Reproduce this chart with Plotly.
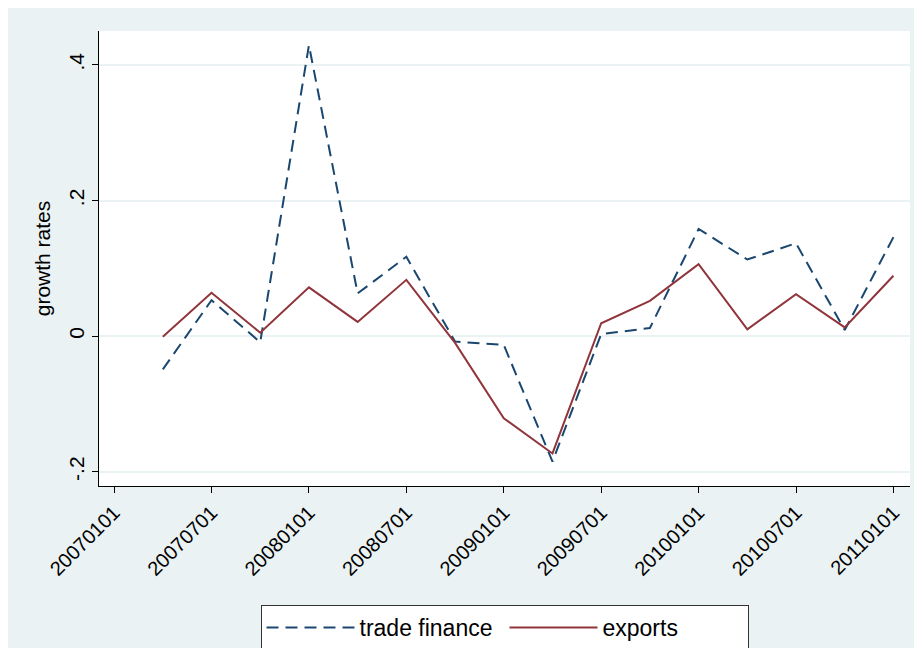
import plotly.graph_objects as go

# quarterly observations (yyyymmdd)
quarters = ["20070401", "20070701", "20071001", "20080101", "20080401", "20080701",
            "20081001", "20090101", "20090401", "20090701", "20091001", "20100101",
            "20100401", "20100701", "20101001", "20110101"]

trade_finance = [-0.049, 0.053, -0.009, 0.429, 0.063, 0.117, -0.008, -0.013,
                 -0.185, 0.003, 0.012, 0.158, 0.113, 0.137, 0.009, 0.146]

exports = [-0.001, 0.064, 0.005, 0.072, 0.021, 0.083, -0.010, -0.121,
           -0.173, 0.019, 0.052, 0.106, 0.010, 0.062, 0.013, 0.089]

x_tick_labels = ["20070101", "20070701", "20080101", "20080701", "20090101",
                 "20090701", "20100101", "20100701", "20110101"]
y_tick_vals = [-0.2, 0, 0.2, 0.4]
y_tick_labels = ["-.2", "0", ".2", ".4"]


# quarter index counted from 2007q1
def qidx(d):
    return (int(d[:4]) - 2007) * 4 + (int(d[4:6]) - 1) // 3


xs = [qidx(d) for d in quarters]

# page body has an 8px margin, so everything is placed 8px up/left
W, H = 922, 648
L, R, T, B = 91, 20, 23, 170
ph = H - T - B

fig = go.Figure()
fig.add_trace(go.Scatter(x=xs, y=trade_finance, mode="lines", name="trade finance",
                         line=dict(color="#1a476f", width=2, dash="12px,7px")))
fig.add_trace(go.Scatter(x=xs, y=exports, mode="lines", name="exports",
                         line=dict(color="#90353b", width=2)))

fig.update_layout(
    width=W, height=H,
    margin=dict(l=L, r=R, t=T, b=B, autoexpand=False),
    paper_bgcolor="#eaf2f3",
    plot_bgcolor="white",
    font=dict(family="Liberation Sans, Arial, sans-serif", size=20, color="black"),
    xaxis=dict(
        range=[-0.31, 16.34],
        tickvals=[qidx(d) for d in x_tick_labels],
        ticktext=x_tick_labels,
        tickangle=-45,
        ticks="outside", ticklen=6, tickcolor="black",
        showline=True, linecolor="black", linewidth=1,
        showgrid=False, zeroline=False, automargin=False,
        tickfont=dict(size=20),
    ),
    yaxis=dict(
        range=[-0.221, 0.45],
        tickvals=y_tick_vals,
        ticktext=y_tick_labels,
        tickangle=-90,
        ticks="outside", ticklen=6, tickcolor="black",
        showline=True, linecolor="black", linewidth=1,
        showgrid=True, gridcolor="#eaf2f3", gridwidth=1.5,
        zeroline=False, automargin=False,
        title=dict(text="growth rates", font=dict(size=21), standoff=8),
        tickfont=dict(size=21),
    ),
    legend=dict(
        orientation="h", x=0.5, xanchor="center", y=(H - B - 597) / ph, yanchor="top",
        bgcolor="white", bordercolor="#333333", borderwidth=1,
        itemwidth=88, entrywidth=140, entrywidthmode="pixels",
        font=dict(size=23),
    ),
)

fig.write_html("out.html")
